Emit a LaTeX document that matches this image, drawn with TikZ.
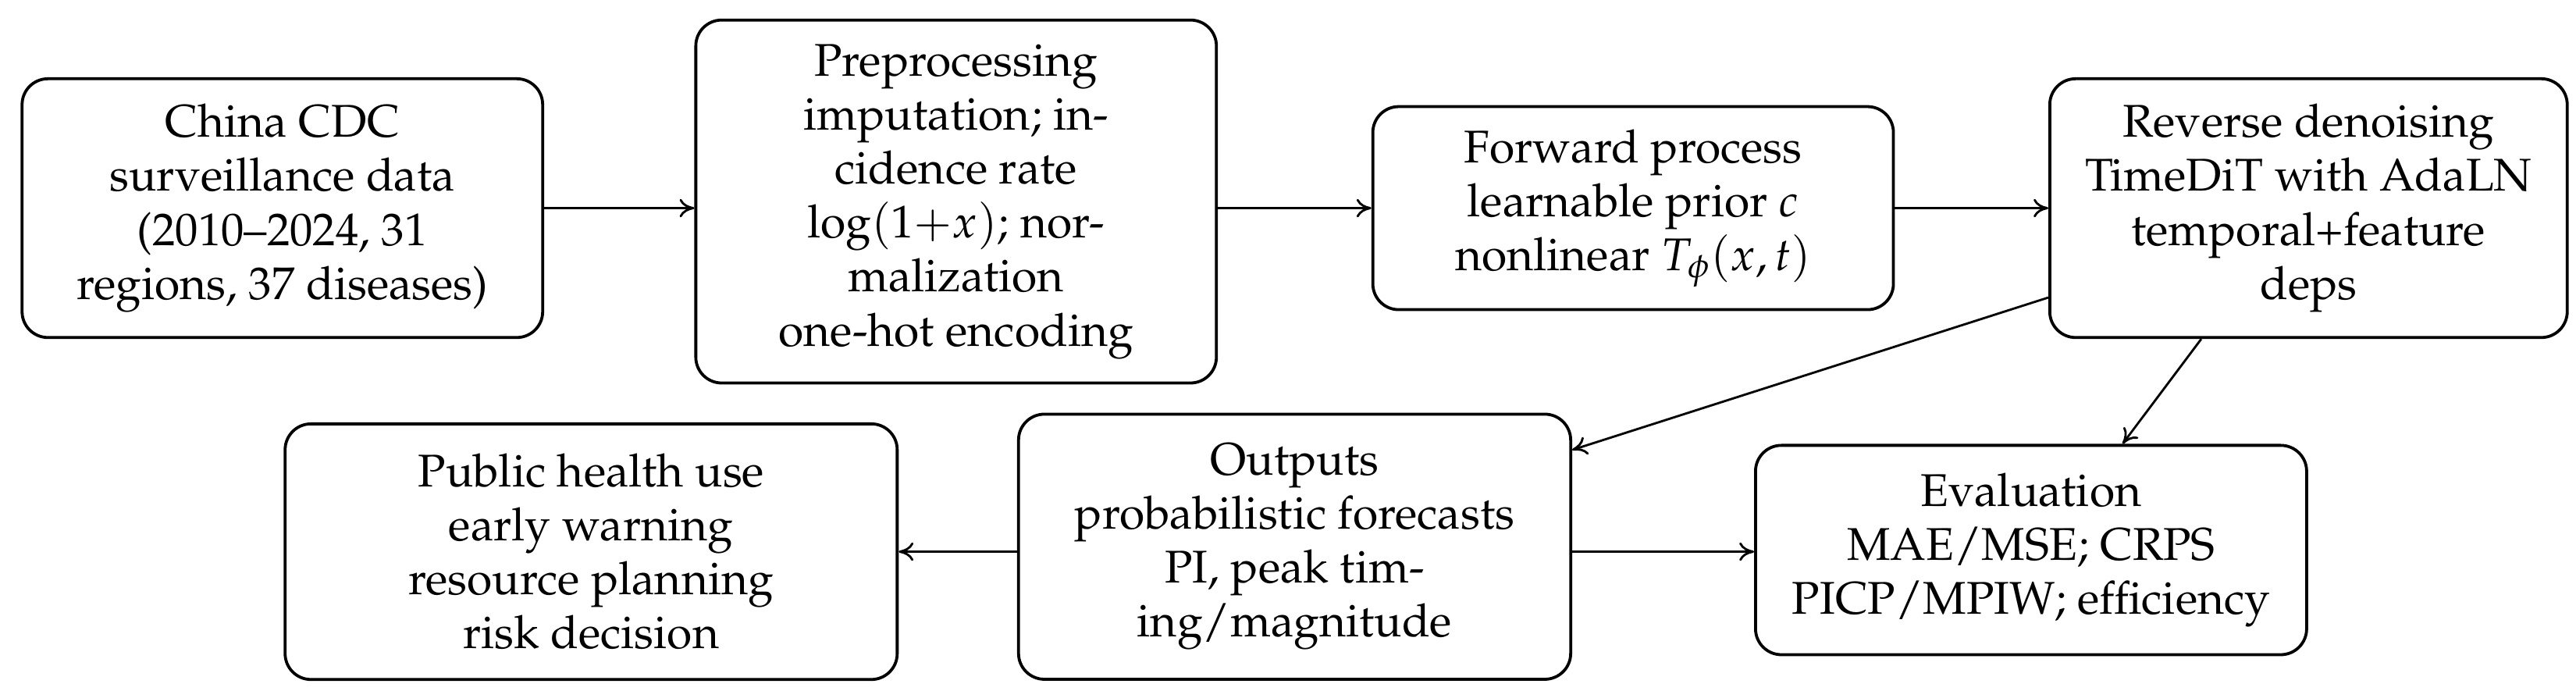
\documentclass[tikz,border=0pt]{standalone}
\usepackage[T1]{fontenc}
\usepackage{mathpazo}
\usetikzlibrary{arrows.meta}
\begin{document}
\begin{tikzpicture}[x=0.0157cm,y=-0.0157cm,
  box/.style={draw,line width=0.8pt,rounded corners=7pt,align=center,inner sep=0pt,font=\fontsize{12.4}{14.6}\selectfont},
  arr/.style={-{To[length=4pt,width=5pt]},line width=0.6pt}]
\useasboundingbox (0,0) rectangle (1560,418);
\node[box,minimum width=4.95cm,minimum height=2.46cm] (a) at (171,126) {China CDC\\surveillance data\\(2010--2024, 31\\regions, 37 diseases)};
\node[box,minimum width=4.95cm,minimum height=3.45cm] (b) at (579,122) {Preprocessing\\imputation; in-\\cidence rate\\$\log(1{+}x)$; nor-\\malization\\one-hot encoding};
\node[box,minimum width=4.95cm,minimum height=1.93cm] (c) at (989,126) {Forward process\\learnable prior $c$\\nonlinear $T_\phi(x,t)$};
\node[box,minimum width=4.92cm,minimum height=2.46cm] (d) at (1398,126) {Reverse denoising\\TimeDiT with AdaLN\\temporal+feature\\deps};
\node[box,minimum width=5.82cm,minimum height=2.43cm] (e) at (358,334) {Public health use\\early warning\\resource planning\\risk decision};
\node[box,minimum width=5.25cm,minimum height=2.52cm] (f) at (784,331) {Outputs\\probabilistic forecasts\\PI, peak tim-\\ing/magnitude};
\node[box,minimum width=5.24cm,minimum height=1.99cm] (g) at (1230,333) {Evaluation\\MAE/MSE; CRPS\\PICP/MPIW; efficiency};
\draw[arr] (a.east) -- (b.west|-a.east);
\draw[arr] (b.east|-c.west) -- (c.west);
\draw[arr] (c.east) -- (d.west|-c.east);
\draw[arr] ([yshift=-0.85cm]d.west) -- ([yshift=0.92cm]f.east);
\draw[arr] ([xshift=-1.02cm]d.south) -- ([xshift=0.87cm]g.north);
\draw[arr] (f.west|-e.east) -- (e.east);
\draw[arr] (f.east|-e.east) -- (g.west|-e.east);
\end{tikzpicture}
\end{document}
